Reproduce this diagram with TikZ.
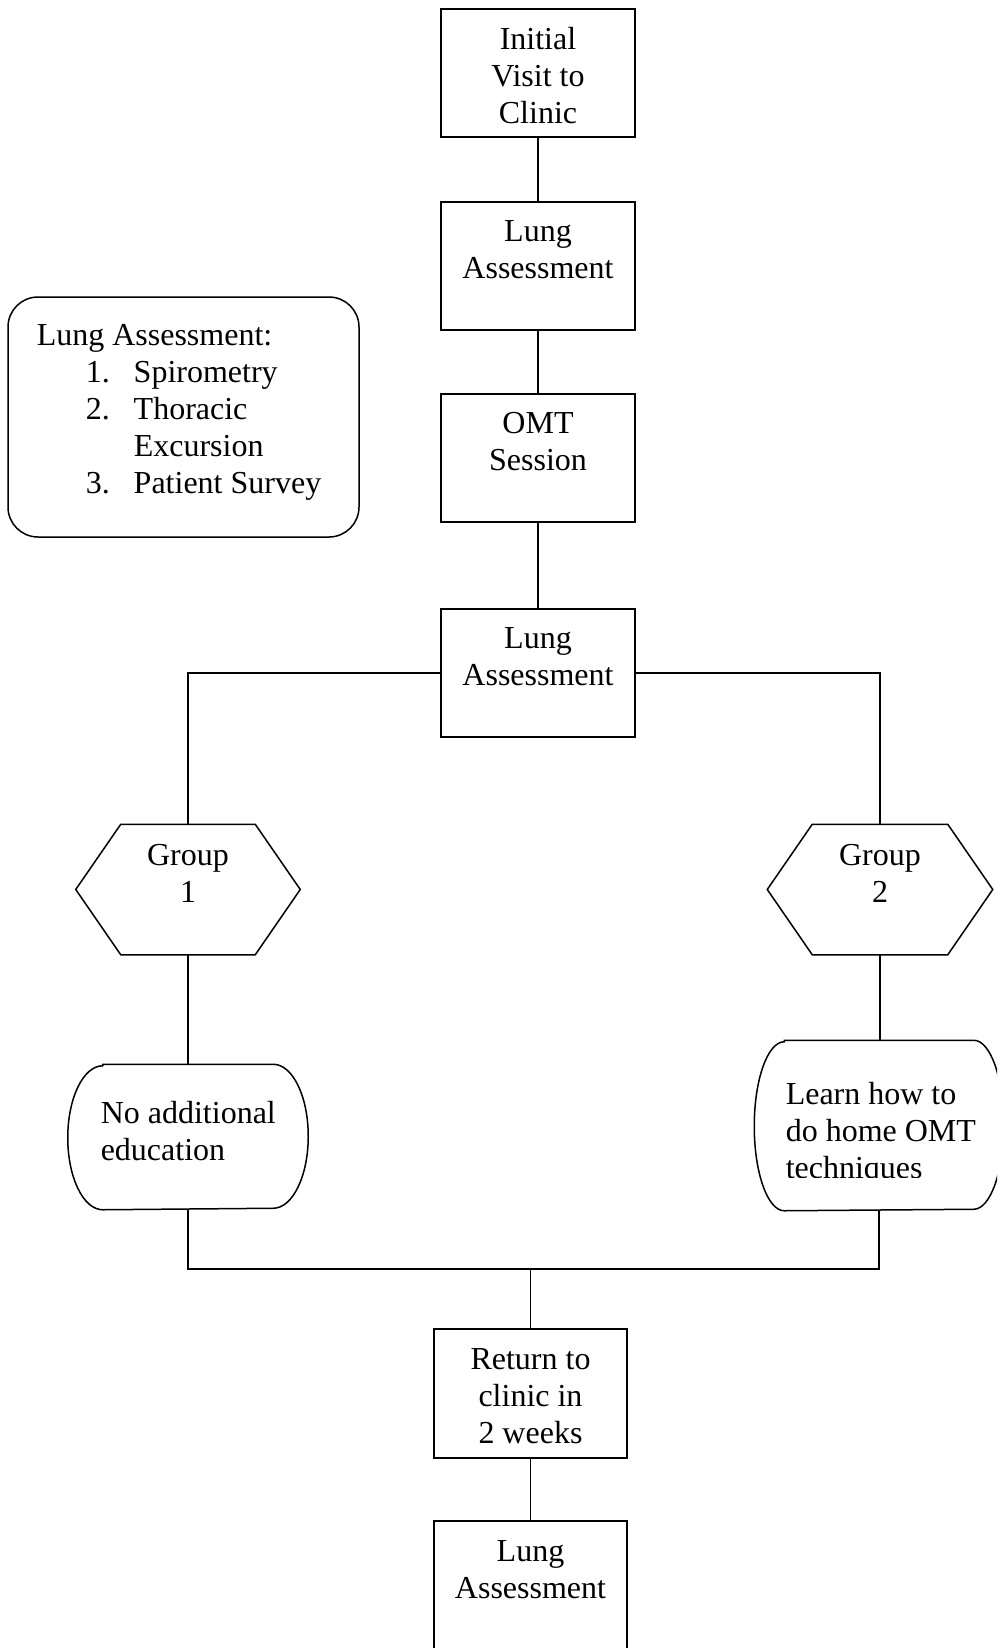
\documentclass[tikz,border=0pt]{standalone}
\usepackage{fontspec}
\setmainfont{Liberation Serif}
\begin{document}
\begin{tikzpicture}[x=1pt,y=1pt,line width=1.5pt,
  boxnode/.style={draw,rectangle,inner sep=0pt,minimum width=194pt,minimum height=128pt},
  blank/.style={rectangle,inner sep=0pt,draw=none},
  txt/.style={inner sep=0pt,align=center,font=\fontsize{32}{37}\selectfont},
  ltxt/.style={inner sep=0pt,align=left,font=\fontsize{32}{37}\selectfont},
]
\useasboundingbox (0,0) rectangle (997,-1648);
\clip (0,0) rectangle (997,-1648);

% main boxes
\node[boxnode] (b1) at (538,-73) {};
\node[boxnode] (b2) at (538,-266) {};
\node[boxnode] (b3) at (538,-458) {};
\node[boxnode] (b4) at (538,-673) {};
\node[boxnode,minimum width=193pt,minimum height=129pt] (b5) at (530.5,-1393.5) {};
\node[boxnode,minimum width=193pt,minimum height=150pt] (b6) at (530.5,-1596) {};

\node[txt,anchor=north] (t1) at ([yshift=-18pt]b1.north) {Initial\\Visit to\\Clinic};
\node[txt,anchor=north] (t2) at ([yshift=-19pt]b2.north) {Lung\\Assessment};
\node[txt,anchor=north] (t3) at ([yshift=-18pt]b3.north) {OMT\\Session};
\node[txt,anchor=north] (t4) at ([yshift=-19pt]b4.north) {Lung\\Assessment};
\node[txt,anchor=north] (t5) at ([yshift=-20pt]b5.north) {Return to\\clinic in\\2 weeks};
\node[txt,anchor=north] (t6) at ([yshift=-20pt]b6.north) {Lung\\Assessment};

% legend
\node[blank,draw,rounded corners=30pt,minimum width=351pt,minimum height=240pt] (leg) at (183.5,-417) {};
\node[ltxt,anchor=north west,font=\fontsize{32}{37}\selectfont] (legt) at (36,-324)
 {Lung Assessment:\\
  \hspace*{49pt}\makebox[48pt][l]{1.}Spirometry\\
  \hspace*{49pt}\makebox[48pt][l]{2.}Thoracic\\
  \hspace*{97pt}Excursion\\
  \hspace*{49pt}\makebox[48pt][l]{3.}Patient Survey};

% hexagons
\node[blank,minimum width=223pt,minimum height=129pt] (h1) at (188,-889.5) {};
\node[blank,minimum width=224pt,minimum height=129pt] (h2) at (880,-889.5) {};
\foreach \h in {h1,h2}{
  \draw ([xshift=45pt]\h.north west) -- ([xshift=-45pt]\h.north east) -- (\h.east)
    -- ([xshift=-45pt]\h.south east) -- ([xshift=45pt]\h.south west) -- (\h.west) -- cycle;
}
\node[txt,anchor=north] (th1) at ([yshift=-19pt]h1.north) {Group\\1};
\node[txt,anchor=north] (th2) at ([yshift=-19pt]h2.north) {Group\\2};

% rounded terminals
\node[blank,minimum width=239pt,minimum height=144pt] (r1) at (188,-1137) {};
\node[blank,minimum width=248pt,minimum height=169pt] (r2) at (879,-1125.5) {};
\draw ([xshift=35pt]r1.north west) -- ([xshift=-35pt]r1.north east)
  arc[start angle=90,end angle=-90,x radius=35pt,y radius=72pt]
  -- ([xshift=35pt]r1.south west)
  arc[start angle=270,end angle=90,x radius=35pt,y radius=72pt] -- cycle;
\draw ([xshift=30pt]r2.north west) -- ([xshift=-30pt]r2.north east)
  arc[start angle=90,end angle=-90,x radius=30pt,y radius=84.5pt]
  -- ([xshift=30pt]r2.south west)
  arc[start angle=270,end angle=90,x radius=30pt,y radius=84.5pt] -- cycle;
\node[ltxt,anchor=north west] (tr1) at (100,-1101) {No additional\\education};
\begin{scope}
  \clip (740,-1030) rectangle (997,-1177);
  \node[ltxt,anchor=north west] (tr2) at (785,-1082) {Learn how to\\do home OMT\\techniques};
\end{scope}

% connectors
\draw (b1.south) -- (b2.north);
\draw (b2.south) -- (b3.north);
\draw (b3.south) -- (b4.north);
\draw (b4.west) -| (h1.north);
\draw (b4.east) -| (h2.north);
\draw (h1.south) -- (r1.north);
\draw (h2.south) -- (h2.south |- r2.north);
\coordinate (j) at (530.5,-1269);
\draw (r1.south) |- (j) -| (r2.south);
\draw (j) -- (b5.north);
\draw (b5.south) -- (b6.north);
\end{tikzpicture}
\end{document}
